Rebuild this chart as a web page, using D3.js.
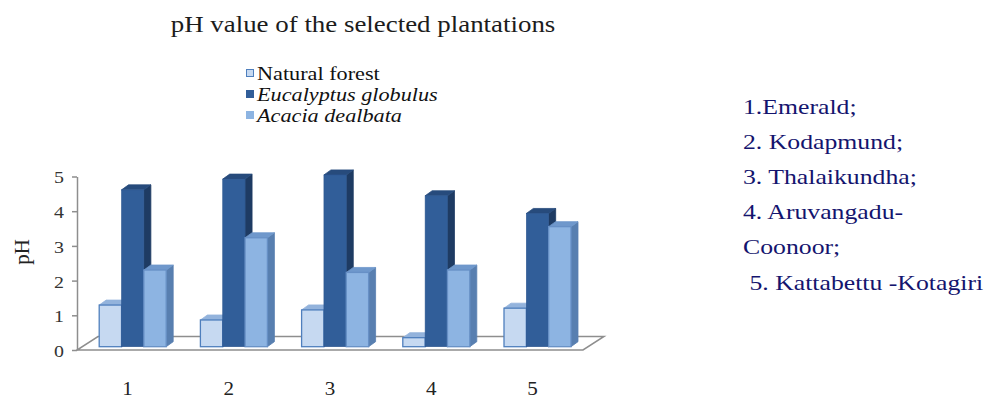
<!DOCTYPE html>
<html>
<head>
<meta charset="utf-8">
<script src="https://cdn.jsdelivr.net/npm/d3@7"></script>
<style>
  body { margin: 0; background: #fff; }
  svg { display: block; }
</style>
</head>
<body>
<svg id="chart" width="995" height="398"></svg>
<script>
// pH readings for the five plantation sites
const sites = ["1", "2", "3", "4", "5"];
const seriesNames = ["Natural forest", "Eucalyptus globulus", "Acacia dealbata"];
const naturalForest = [1.20, 0.77, 1.06, 0.26, 1.11];
const eucalyptusGlobulus = [4.52, 4.83, 4.95, 4.35, 3.84];
const acaciaDealbata = [2.21, 3.14, 2.14, 2.21, 3.46];
const yTicks = [0, 1, 2, 3, 4, 5];
const siteNames = ["1.Emerald;", "2. Kodapmund;", "3. Thalaikundha;", "4. Aruvangadu-", "Coonoor;", " 5. Kattabettu -Kotagiri"];

const seriesValues = [naturalForest, eucalyptusGlobulus, acaciaDealbata];

// face colours for each series: front, top, side, outline
const palette = [
  { front: "#c6d9f1", top: "#93b3dc", side: "#7d9fcb", stroke: "#4f7fbd" },
  { front: "#315e99", top: "#274b7c", side: "#1e3b63", stroke: "#2d5690" },
  { front: "#8db4e2", top: "#6f98cc", side: "#587fb0", stroke: "#6790c6" }
];

const SERIF = "'Liberation Serif', 'Times New Roman', Times, serif";
const SX = 1.17; // horizontal widening applied to all labels
const svg = d3.select("#chart");

// ---- scales -------------------------------------------------------------
const floorLeft = 77, floorRight = 583, floorFront = 350;
const depth = { x: 21, y: -13.5 };          // full floor depth (oblique)
const barShift = { x: 5.1, y: -3.3 };       // bars sit a little behind the front edge
const barDepth = { x: 7, y: -5 };           // thickness of each column

const x0 = d3.scaleBand().domain(sites).range([floorLeft, floorRight]).padding(0);
const groupW = 67;
const x1 = d3.scaleBand().domain(seriesNames)
  .range([(x0.bandwidth() - groupW) / 2, (x0.bandwidth() + groupW) / 2]).padding(0);
const y = d3.scaleLinear().domain([0, 5]).range([floorFront, 176.5]);

// ---- title --------------------------------------------------------------
svg.append("text")
  .attr("transform", `translate(363,32) scale(${SX},1)`)
  .attr("text-anchor", "middle")
  .style("font-size", "23px")
  .style("fill", "#1c1c1c")
  .text("pH value of the selected plantations");

// ---- legend -------------------------------------------------------------
const legend = svg.append("g").attr("transform", "translate(246,80)");
seriesNames.forEach((name, i) => {
  const row = legend.append("g").attr("transform", `translate(0,${i * 21})`);
  row.append("rect")
    .attr("x", 0.5).attr("y", -10.5).attr("width", 7).attr("height", 7)
    .attr("fill", palette[i].front)
    .attr("stroke", i === 0 ? palette[0].stroke : palette[i].front)
    .attr("stroke-width", 1);
  row.append("text")
    .attr("transform", `translate(11,0) scale(${SX},1)`)
    .style("font-size", "19px")
    .style("font-style", i === 0 ? "normal" : "italic")
    .style("fill", "#111")
    .text(name);
});

// ---- floor --------------------------------------------------------------
const floorPts = [
  [floorLeft, floorFront],
  [floorRight, floorFront],
  [floorRight + depth.x, floorFront + depth.y],
  [floorLeft + depth.x, floorFront + depth.y]
];
svg.append("path")
  .attr("d", d3.line()(floorPts) + "Z")
  .attr("fill", "#fff")
  .attr("stroke", "#8e8e8e")
  .attr("stroke-width", 1.5);

// ---- value axis -----------------------------------------------------------
const yAxis = svg.append("g")
  .attr("transform", `translate(${floorLeft},0)`)
  .call(d3.axisLeft(y).tickValues(yTicks).tickFormat(d3.format("d"))
    .tickSize(5).tickSizeOuter(0).tickPadding(18));
yAxis.attr("font-family", null);
yAxis.select(".domain").attr("stroke", "#8e8e8e").attr("stroke-width", 1.5);
yAxis.selectAll(".tick line").attr("stroke", "#8e8e8e").attr("stroke-width", 1.5);
yAxis.selectAll(".tick text")
  .style("font-size", "17px").style("fill", "#333")
  .attr("text-anchor", "middle")
  .each(function () {
    const tx = +this.getAttribute("x");
    this.setAttribute("x", 0);
    this.setAttribute("transform", `translate(${tx + 5},1) scale(${SX},1)`);
  });

svg.append("text")
  .attr("transform", "translate(29,252) rotate(-90)")
  .attr("text-anchor", "middle")
  .style("font-size", "21px")
  .style("fill", "#222")
  .text("pH");

// ---- category axis ----------------------------------------------------------
const xAxis = svg.append("g")
  .attr("transform", `translate(0,${floorFront})`)
  .call(d3.axisBottom(x0).tickSize(0).tickPadding(32));
xAxis.attr("font-family", null);
xAxis.select(".domain").remove();
xAxis.selectAll(".tick text")
  .style("font-size", "18px").style("fill", "#222")
  .each(function () {
    this.setAttribute("transform", `scale(${SX},1)`);
  });

// ---- columns ------------------------------------------------------------
const bars = [];
sites.forEach((site, ci) => {
  seriesNames.forEach((name, si) => {
    bars.push({ site, name, si, value: seriesValues[si][ci] });
  });
});

const barW = x1.bandwidth();
const barG = svg.append("g");
bars.forEach(b => {
  const c = palette[b.si];
  const xl = x0(b.site) + x1(b.name) + barShift.x;
  const xr = xl + barW;
  const yb = floorFront + barShift.y;
  const yt = y(b.value) + barShift.y;
  const g = barG.append("g");
  // right side
  g.append("path")
    .attr("d", d3.line()([[xr, yb], [xr + barDepth.x, yb + barDepth.y],
      [xr + barDepth.x, yt + barDepth.y], [xr, yt]]) + "Z")
    .attr("fill", c.side).attr("stroke", c.side).attr("stroke-width", 0.8)
    .attr("stroke-linejoin", "round");
  // top
  g.append("path")
    .attr("d", d3.line()([[xl, yt], [xl + barDepth.x, yt + barDepth.y],
      [xr + barDepth.x, yt + barDepth.y], [xr, yt]]) + "Z")
    .attr("fill", c.top).attr("stroke", c.top).attr("stroke-width", 0.8)
    .attr("stroke-linejoin", "round");
  // front
  g.append("rect")
    .attr("x", xl).attr("y", yt)
    .attr("width", barW).attr("height", Math.max(0, yb - yt))
    .attr("fill", c.front)
    .attr("stroke", c.stroke).attr("stroke-width", b.si === 1 ? 0.6 : 1.3);
});

// ---- site key -------------------------------------------------------------
const key = svg.append("g").attr("transform", "translate(743,0)");
siteNames.forEach((t, i) => {
  key.append("text")
    .attr("transform", `translate(0,${114 + i * 35.1}) scale(${SX},1)`)
    .style("font-size", "22px")
    .style("fill", "#14146e")
    .style("white-space", "pre")
    .text(t);
});

// every label uses the serif face
svg.selectAll("text").style("font-family", SERIF);
</script>
</body>
</html>
